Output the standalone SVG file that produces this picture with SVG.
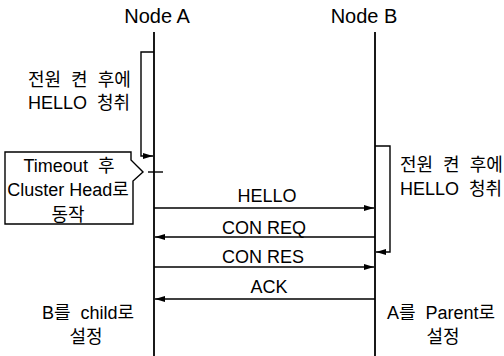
<svg xmlns="http://www.w3.org/2000/svg" width="504" height="356" viewBox="0 0 504 356">
<style>
text{font-family:"Liberation Sans","Noto Sans CJK KR",sans-serif;font-size:18px;fill:#000}
.t{font-size:20px}
.m{text-anchor:middle}
.ln{stroke:#000;stroke-width:1.8;fill:none}
.msg{stroke:#000;stroke-width:1.4;fill:none}
</style>
<defs>
<marker id="ah" viewBox="0 0 10 6" refX="10" refY="3" markerWidth="11" markerHeight="6" markerUnits="userSpaceOnUse" orient="auto">
<path d="M0,0 L10,3 L0,6 z" fill="#000"/>
</marker>
</defs>
<rect width="504" height="356" fill="#fff"/>
<g id="nodeA">
<text class="t m" x="157" y="23">Node A</text>
<line class="ln" x1="154" y1="32" x2="154" y2="356"/>
<path class="msg" d="M154,52 H141 V156 H153" marker-end="url(#ah)"/>
<text x="28" y="86" xml:space="preserve">전원  켠  후에</text>
<text x="28" y="109" xml:space="preserve">HELLO  청취</text>
<line class="msg" x1="148" y1="172" x2="163" y2="172"/>
<text class="m" x="88" y="319" xml:space="preserve">B를  child로</text>
<text class="m" x="86" y="343">설정</text>
</g>
<g id="nodeB">
<text class="t m" x="364" y="23">Node B</text>
<line class="ln" x1="375" y1="32" x2="375" y2="356"/>
<path class="msg" d="M375,146 H390 V252 H376" marker-end="url(#ah)"/>
<text x="400" y="171" xml:space="preserve">전원  켠  후에</text>
<text x="400" y="195" xml:space="preserve">HELLO  청취</text>
<text class="m" x="441" y="319" xml:space="preserve">A를  Parent로</text>
<text class="m" x="443" y="343">설정</text>
</g>
<g id="timeout">
<path class="msg" d="M5,152 H131 V160 L143,172 L133,181 V224 H5 Z"/>
<text class="m" x="69" y="172" xml:space="preserve">Timeout  후</text>
<text class="m" x="68" y="196">Cluster Head로</text>
<text class="m" x="68" y="221">동작</text>
</g>
<g id="connectors">
<line class="msg" x1="154" y1="208" x2="374" y2="208" marker-end="url(#ah)"/>
<text class="m" x="267" y="202">HELLO</text>
<line class="msg" x1="375" y1="237" x2="155" y2="237" marker-end="url(#ah)"/>
<text class="m" x="264" y="234">CON REQ</text>
<line class="msg" x1="154" y1="267" x2="374" y2="267" marker-end="url(#ah)"/>
<text class="m" x="263" y="263">CON RES</text>
<line class="msg" x1="375" y1="299" x2="155" y2="299" marker-end="url(#ah)"/>
<text class="m" x="269" y="293">ACK</text>
</g>
</svg>
